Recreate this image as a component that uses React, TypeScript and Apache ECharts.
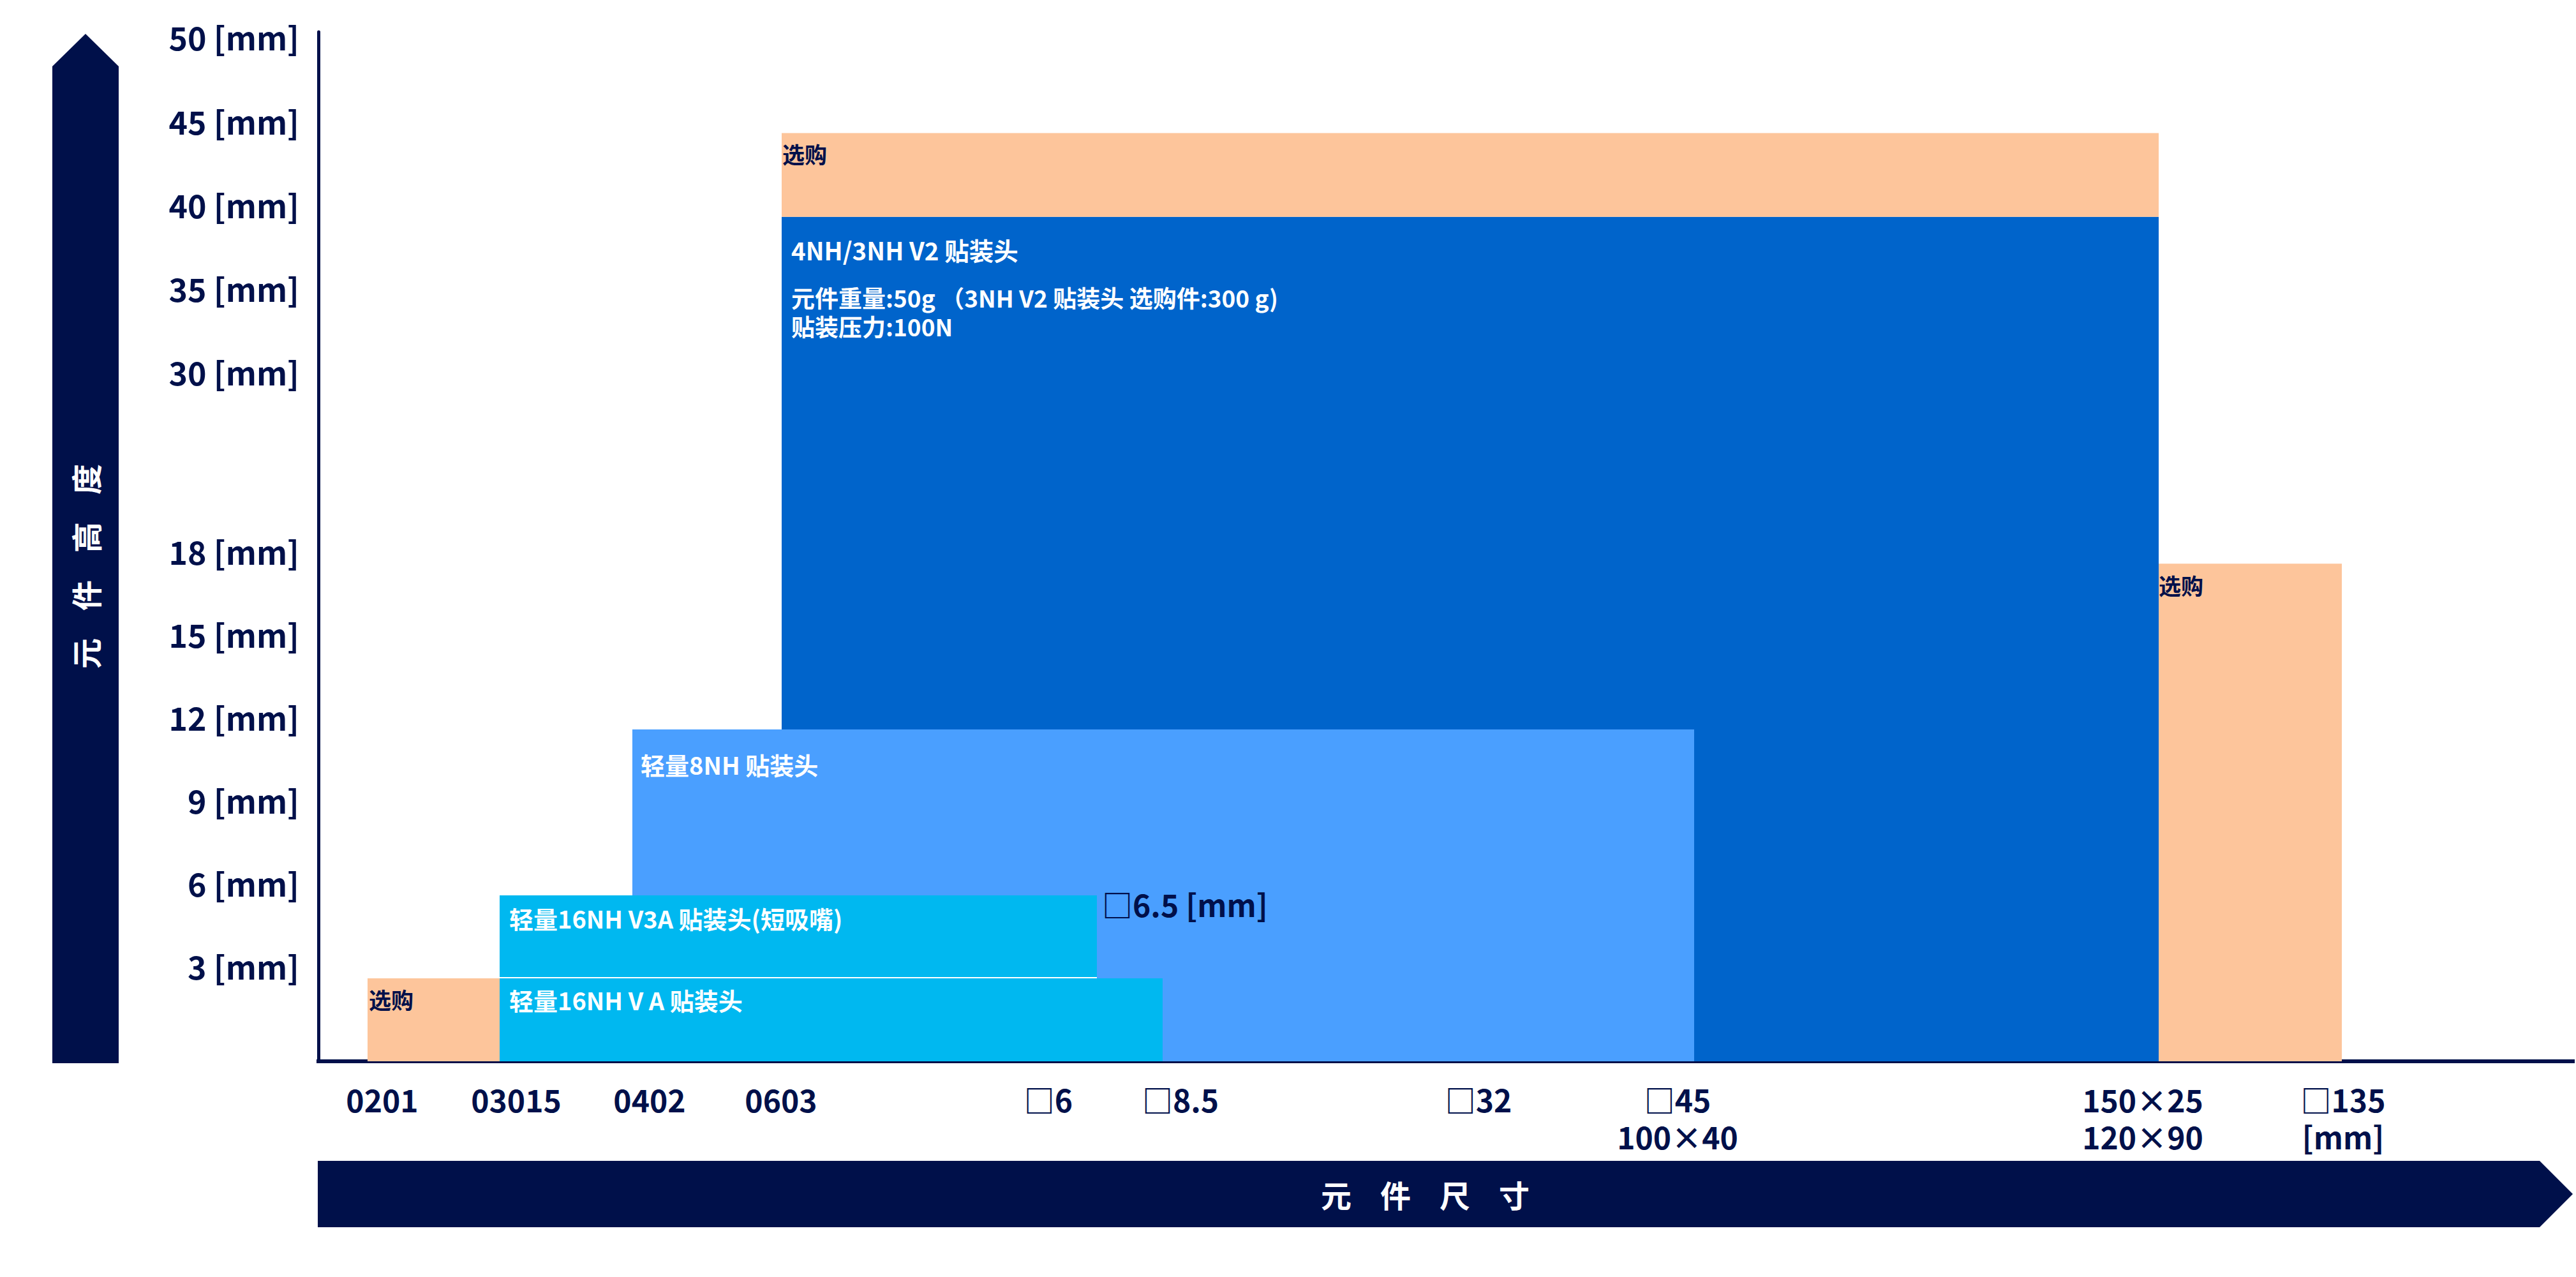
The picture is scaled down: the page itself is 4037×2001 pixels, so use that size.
import React, { useEffect, useRef } from "react";
import * as echarts from "echarts";

// ---------- data ----------
// x positions are in axis units (component-size scale)
const xTickValues = [1.0, 3.1, 5.19, 7.25, 11.44, 13.51, 18.18, 21.3, 28.59, 31.73];
const xTickLabels = ["0201", "03015", "0402", "0603", "□6", "□8.5", "□32", "□45\n100×40", "150×25\n120×90", "□135\n[mm]"];

// y tick labels (component height in mm)
const yTickMM = [3, 6, 9, 12, 15, 18, 30, 35, 40, 45, 50];

// bars (placement heads)
const barNames = ["4NH/3NH V2 贴装头", "选购", "轻量8NH 贴装头", "轻量16NH V3A 贴装头(短吸嘴)", "轻量16NH V A 贴装头", "选购", "选购"];
const barX0 = [7.26, 7.26, 4.92, 2.84, 2.84, 0.77, 28.84];
const barX1 = [28.84, 28.84, 21.56, 12.2, 13.23, 2.84, 31.71];
const barY0 = [0, 40, 0, 3, 0, 0, 0];
const barY1 = [40, 45, 12, 6, 3, 3, 18];
const barNotes = ["元件重量:50g （3NH V2 贴装头 选购件:300 g)\n贴装压力:100N", "", "", "", "", "", ""];
const barSizeNotes = ["", "", "", "□6.5 [mm]", "", "", ""];

const yTitle = "元件高度";
const xTitle = "元件尺寸";

// ---------- broken y scale (mm -> axis units) ----------
const LOW_MAX = 18;
const LOW_MM_PER_UNIT = 3;
const HIGH_MIN = 30;
const HIGH_BASE = 8.16;
const HIGH_MM_PER_UNIT = 5 / 1.01;
function yUnit(mm: number): number {
  if (mm <= LOW_MAX) return mm / LOW_MM_PER_UNIT;
  return HIGH_BASE + (mm - HIGH_MIN) / HIGH_MM_PER_UNIT;
}

// ---------- styles ----------
const NAVY = "#00104A";
const PEACH = "#FDC59B";
const CJK = '"Noto Sans CJK SC", "Noto Sans", sans-serif';
const barColors = ["#0064CB", PEACH, "#4A9FFF", "#00B8F0", "#00B8F0", PEACH, PEACH];
const labelColors = ["#FFFFFF", NAVY, "#FFFFFF", "#FFFFFF", "#FFFFFF", NAVY, NAVY];
const labelSizes = [38.5, 35, 38, 38, 38, 35, 35];
const labelDx = [15, 1, 13, 15, 15, 2, 0];
const labelDy = [51, 32, 54, 35, 33, 32, 33];
const bottomGap = [0, 0, 0, 2, 0, 0, 0];

export default function App() {
  const ref = useRef<HTMLDivElement>(null);

  useEffect(() => {
    if (!ref.current) return;
    const chart = echarts.init(ref.current, null, { renderer: "svg" });

    const seriesData = barNames.map((_, i) => [barX0[i], barX1[i], yUnit(barY0[i]), yUnit(barY1[i])]);

    const nearestIndex = (arr: number[], v: number) => {
      let best = 0;
      for (let i = 1; i < arr.length; i++) if (Math.abs(arr[i] - v) < Math.abs(arr[best] - v)) best = i;
      return best;
    };
    const yTickUnits = yTickMM.map(yUnit);

    const graphic: any[] = [
      {
        type: "polygon",
        shape: { points: [[82, 1666], [82, 104], [134, 53], [186, 104], [186, 1666]] },
        style: { fill: NAVY },
      },
      {
        type: "polygon",
        shape: { points: [[498, 1819], [3980, 1819], [4032, 1871], [3980, 1923], [498, 1923]] },
        style: { fill: NAVY },
      },
    ];
    Array.from(yTitle).forEach((ch, i) => {
      graphic.push({
        type: "text",
        x: 133,
        y: 1024 - i * 91,
        rotation: Math.PI / 2,
        style: { text: ch, fill: "#FFFFFF", fontSize: 48, fontWeight: "bold", fontFamily: CJK, align: "center", verticalAlign: "middle" },
      });
    });
    Array.from(xTitle).forEach((ch, i) => {
      graphic.push({
        type: "text",
        x: 2094 + i * 93,
        y: 1871,
        style: { text: ch, fill: "#FFFFFF", fontSize: 48, fontWeight: "bold", fontFamily: CJK, align: "center", verticalAlign: "middle" },
      });
    });

    chart.setOption({
      animation: false,
      backgroundColor: "#FFFFFF",
      grid: { left: 499, right: 5, top: 50, bottom: 338, containLabel: false },
      xAxis: {
        type: "value",
        min: 0,
        max: 35.33,
        axisLine: { show: true, onZero: false, lineStyle: { color: NAVY, width: 6, cap: "square" } },
        axisTick: { show: false },
        splitLine: { show: false },
        axisLabel: {
          customValues: xTickValues,
          formatter: (v: number) => xTickLabels[nearestIndex(xTickValues, v)],
          color: NAVY,
          fontFamily: CJK,
          fontWeight: "bold",
          fontSize: 48,
          lineHeight: 58,
          margin: 30,
          align: "center",
        },
      },
      yAxis: {
        type: "value",
        min: 0,
        max: 12.41,
        axisLine: { show: true, onZero: false, lineStyle: { color: NAVY, width: 5 } },
        axisTick: { show: false },
        splitLine: { show: false },
        axisLabel: {
          customValues: yTickUnits,
          formatter: (v: number) => `${yTickMM[nearestIndex(yTickUnits, v)]} [mm]`,
          color: NAVY,
          fontFamily: CJK,
          fontWeight: "bold",
          fontSize: 50,
          lineHeight: 40,
          verticalAlign: "bottom",
          margin: 30,
        },
      },
      graphic,
      series: [
        {
          type: "custom",
          encode: { x: [0, 1], y: [2, 3] },
          data: seriesData,
          z: 1,
          renderItem: (params: any, api: any) => {
            const i = params.dataIndex;
            const tl = api.coord([api.value(0), api.value(3)]);
            const br = api.coord([api.value(1), api.value(2)]);
            const children: any[] = [
              {
                type: "rect",
                shape: { x: tl[0], y: tl[1], width: br[0] - tl[0], height: br[1] - tl[1] },
                style: { fill: barColors[i] },
              },
              {
                type: "text",
                style: {
                  text: barNames[i],
                  x: tl[0] + labelDx[i],
                  y: tl[1] + labelDy[i],
                  fill: labelColors[i],
                  fontSize: labelSizes[i],
                  fontWeight: "bold",
                  fontFamily: CJK,
                  align: "left",
                  verticalAlign: "middle",
                },
              },
            ];
            if (bottomGap[i]) {
              children.push({
                type: "rect",
                shape: { x: tl[0], y: br[1] - bottomGap[i], width: br[0] - tl[0], height: bottomGap[i] },
                style: { fill: "#FFFFFF" },
              });
            }
            if (barNotes[i]) {
              children.push({
                type: "text",
                style: {
                  text: barNotes[i],
                  x: tl[0] + 15,
                  y: tl[1] + 104,
                  fill: "#FFFFFF",
                  fontSize: 37,
                  lineHeight: 45,
                  fontWeight: "bold",
                  fontFamily: CJK,
                  align: "left",
                  verticalAlign: "top",
                },
              });
            }
            if (barSizeNotes[i]) {
              children.push({
                type: "text",
                style: {
                  text: barSizeNotes[i],
                  x: br[0] + 8,
                  y: tl[1] + 13,
                  fill: NAVY,
                  fontSize: 48,
                  fontWeight: "bold",
                  fontFamily: CJK,
                  align: "left",
                  verticalAlign: "middle",
                },
              });
            }
            return { type: "group", children };
          },
        },
      ],
    });

    return () => chart.dispose();
  }, []);

  return (
    <div
      ref={ref}
      style={{ position: "fixed", left: 0, top: 0, width: 4037, height: 2001, background: "#FFFFFF" }}
    />
  );
}
